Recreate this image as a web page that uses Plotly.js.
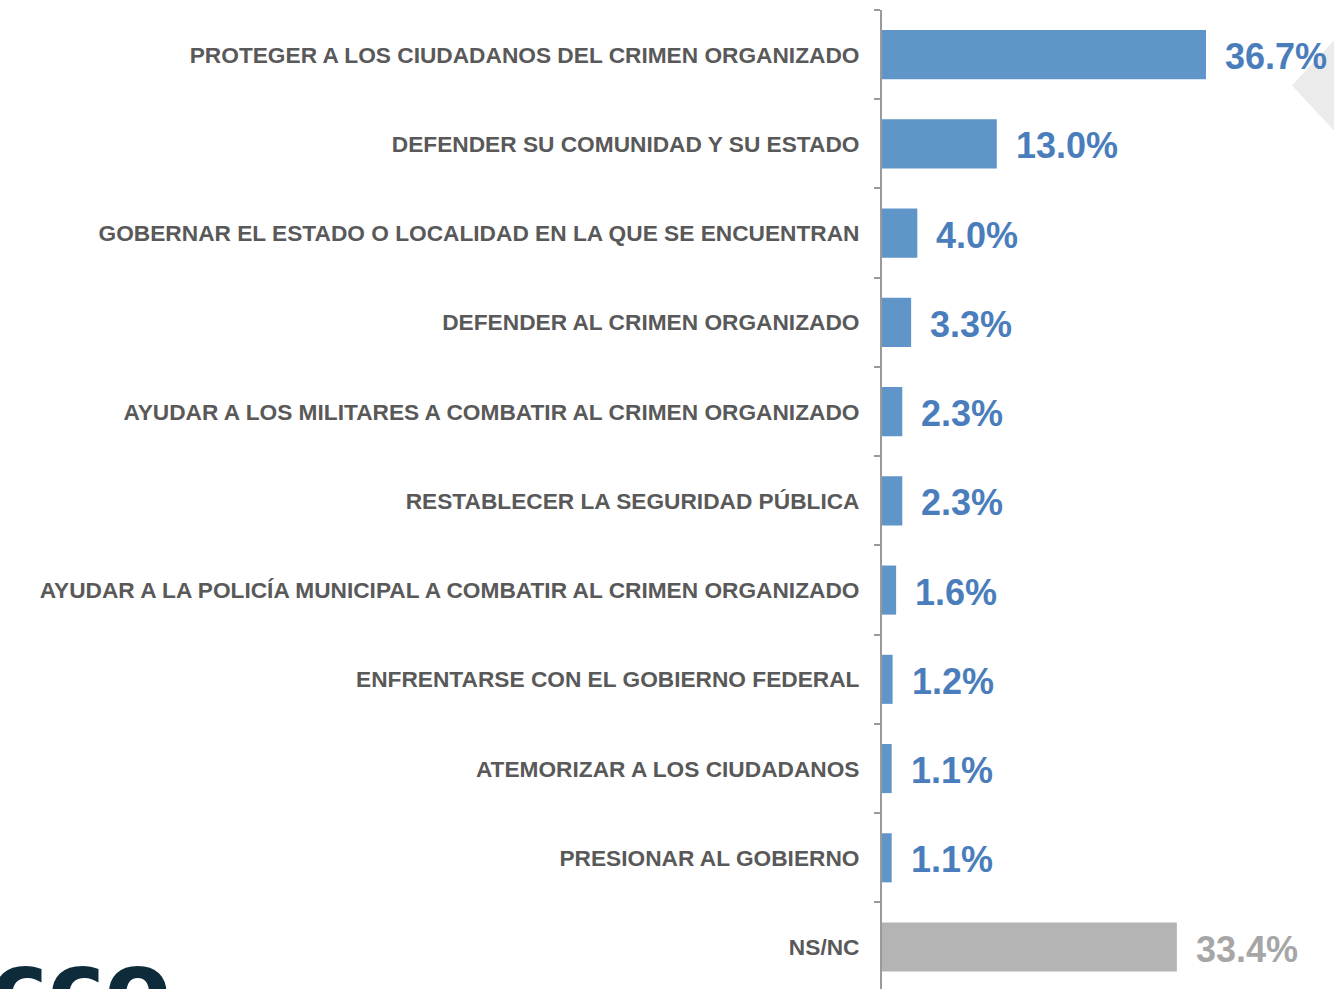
<!DOCTYPE html>
<html>
<head>
<meta charset="utf-8">
<script src="https://cdn.plot.ly/plotly-3.0.1.min.js"></script>
<style>html,body{margin:0;padding:0;background:#fff;}#chart{width:1334px;height:989px;}</style>
</head>
<body>
<div id="chart"></div>
<script>
const categories = [
  "PROTEGER A LOS CIUDADANOS DEL CRIMEN ORGANIZADO",
  "DEFENDER SU COMUNIDAD Y SU ESTADO",
  "GOBERNAR EL ESTADO O LOCALIDAD EN LA QUE SE ENCUENTRAN",
  "DEFENDER AL CRIMEN ORGANIZADO",
  "AYUDAR A LOS MILITARES A COMBATIR AL CRIMEN ORGANIZADO",
  "RESTABLECER LA SEGURIDAD PÚBLICA",
  "AYUDAR A LA POLICÍA MUNICIPAL A COMBATIR AL CRIMEN ORGANIZADO",
  "ENFRENTARSE CON EL GOBIERNO FEDERAL",
  "ATEMORIZAR A LOS CIUDADANOS",
  "PRESIONAR AL GOBIERNO",
  "NS/NC"
];
const values = [36.7, 13.0, 4.0, 3.3, 2.3, 2.3, 1.6, 1.2, 1.1, 1.1, 33.4];
const barColors = ["#5f95c9","#5f95c9","#5f95c9","#5f95c9","#5f95c9","#5f95c9","#5f95c9","#5f95c9","#5f95c9","#5f95c9","#b4b4b4"];
const textColors = ["#4a7dbb","#4a7dbb","#4a7dbb","#4a7dbb","#4a7dbb","#4a7dbb","#4a7dbb","#4a7dbb","#4a7dbb","#4a7dbb","#a6a6a6"];

const trace = {
  type: "bar",
  orientation: "h",
  y: categories,
  x: values,
  width: 0.55,
  marker: {color: barColors, line: {width: 0}},
  hoverinfo: "skip",
  cliponaxis: false
};

const annotations = values.map((v, i) => ({
  x: v, y: categories[i], xref: "x", yref: "y",
  text: v.toFixed(1) + "%",
  showarrow: false, xanchor: "left", yanchor: "middle", xshift: 17, yshift: -2,
  font: {family: "Liberation Sans, Arial, sans-serif", size: 36, color: textColors[i], weight: "bold"}
}));

// logo fragment bottom-left (cut off by the page edge, as in the reference)
annotations.push({
  xref: "paper", yref: "paper", x: -1.975, y: 0.061, xanchor: "left", yanchor: "top",
  text: "<b>cco</b>", showarrow: false,
  font: {family: "DejaVu Sans, sans-serif", size: 96, color: "#0d2b3a"}
});

const layout = {
  width: 1334, height: 989,
  margin: {l: 882, r: 0, t: 10, b: 0, pad: 0},
  paper_bgcolor: "#ffffff", plot_bgcolor: "rgba(0,0,0,0)",
  showlegend: false,
  bargap: 0.45,
  xaxis: {range: [0, 51.2], visible: false, fixedrange: true},
  yaxis: {
    type: "category",
    range: [10.47, -0.5],
    showline: true, linecolor: "#9a9a9a", linewidth: 2,
    ticks: "outside", tickson: "boundaries", ticklen: 6, tickcolor: "#9a9a9a", tickwidth: 2,
    ticklabelstandoff: 16,
    showgrid: false, zeroline: false,
    tickfont: {family: "Liberation Sans, Arial, sans-serif", size: 22.7, color: "#595959", weight: "bold"},
    fixedrange: true
  },
  shapes: [{
    type: "path", xref: "paper", yref: "paper", layer: "below",
    path: "M 0.907 0.923 L 1.0 0.969 L 1.1 0.969 L 1.1 0.877 L 1.0 0.877 Z",
    fillcolor: "#ebebeb", line: {width: 0}
  }],
  annotations: annotations
};

Plotly.newPlot("chart", [trace], layout, {displayModeBar: false, staticPlot: true});
</script>
</body>
</html>
